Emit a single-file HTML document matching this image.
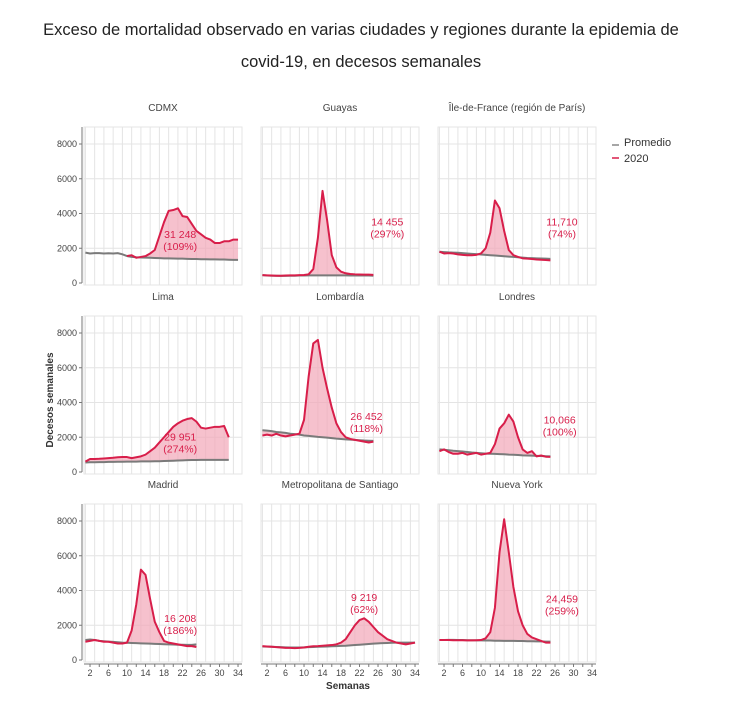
<!DOCTYPE html>
<html><head><meta charset="utf-8">
<style>
body{margin:0;background:#fff;width:744px;height:704px;overflow:hidden;font-family:"Liberation Sans",sans-serif}
#title{position:absolute;left:0;top:14px;width:722px;text-align:center;font-size:16.5px;line-height:32px;color:#222}
svg{position:absolute;left:0;top:0}
</style></head><body>
<div id="title">Exceso de mortalidad observado en varias ciudades y regiones durante la epidemia de<br>covid-19, en decesos semanales</div>
<svg id="chart" width="744" height="704"></svg>
<script>
const panelNames = ["CDMX","Guayas","Île-de-France (región de París)","Lima","Lombardía","Londres","Madrid","Metropolitana de Santiago","Nueva York"];
const avgStart = [1,1,1,1,1,1,1,1,1];
const avgValues = [
 [1750,1700,1720,1720,1700,1710,1700,1720,1650,1550,1500,1480,1470,1460,1450,1440,1430,1420,1420,1410,1400,1400,1390,1380,1380,1370,1370,1360,1360,1350,1350,1340,1330,1330],
 [450,430,420,420,410,410,420,420,430,430,440,440,440,440,440,440,440,440,440,430,430,430,430,430,420],
 [1800,1780,1760,1750,1740,1720,1700,1680,1660,1640,1620,1600,1580,1560,1540,1520,1500,1480,1460,1440,1430,1420,1410,1400,1390],
 [550,560,560,570,570,580,580,590,590,600,600,600,610,610,610,620,620,630,640,650,660,670,680,690,690,700,700,700,700,700,700,700],
 [2400,2380,2350,2300,2280,2250,2200,2180,2150,2100,2080,2050,2020,2000,1980,1950,1920,1900,1880,1860,1850,1830,1810,1800,1790],
 [1300,1280,1250,1220,1200,1180,1150,1120,1100,1080,1060,1050,1040,1030,1020,1000,990,980,960,950,940,930,920,910,900],
 [1150,1180,1150,1100,1080,1060,1040,1020,1000,990,980,970,960,950,940,930,920,910,900,890,880,880,870,870,900],
 [780,770,760,750,740,730,720,720,720,730,740,750,760,770,780,790,800,810,820,840,860,880,900,920,940,960,970,980,990,1000,1000,1000,1000,1000],
 [1150,1150,1160,1160,1150,1150,1140,1140,1130,1130,1120,1120,1110,1110,1100,1100,1100,1090,1090,1080,1080,1070,1070,1060,1060]
];
const yrStart = [10,1,1,1,1,1,1,1,1];
const yrValues = [
 [1550,1600,1450,1500,1550,1700,1900,2700,3500,4150,4200,4300,3850,3800,3400,3000,2800,2600,2500,2300,2300,2400,2400,2500,2500],
 [450,440,430,420,420,430,440,440,450,460,500,800,2600,5300,3600,1600,900,650,560,520,500,490,480,480,470],
 [1800,1700,1720,1700,1650,1620,1600,1600,1620,1700,2000,2900,4750,4300,3000,1900,1600,1500,1420,1400,1380,1350,1340,1320,1300],
 [600,750,750,760,780,800,820,850,860,860,800,850,900,1000,1200,1400,1700,2000,2300,2600,2800,2950,3050,3100,2900,2550,2500,2550,2600,2600,2650,2000],
 [2100,2150,2100,2200,2100,2050,2100,2150,2200,3000,5500,7400,7600,6000,4800,3700,2800,2300,2000,1900,1850,1800,1750,1700,1750],
 [1200,1300,1150,1050,1050,1100,1000,1050,1100,1000,1050,1100,1600,2500,2800,3300,2900,2000,1300,1100,1200,900,950,880,870],
 [1050,1100,1150,1100,1050,1050,1000,950,950,1000,1700,3200,5200,4900,3500,2200,1600,1100,1000,950,900,850,800,800,750],
 [800,780,760,740,720,700,700,680,700,720,760,790,800,820,840,860,900,1000,1200,1600,2000,2300,2400,2200,1900,1600,1400,1200,1100,1000,950,900,950,1000],
 [1150,1150,1150,1140,1140,1140,1130,1130,1140,1150,1250,1600,3000,6200,8100,6200,4200,2800,2000,1500,1300,1200,1100,1000,1000]
];
const annotLine1 = ["31 248","14 455","11,710","29 951","26 452","10,066","16 208","9 219","24,459"];
const annotLine2 = ["(109%)","(297%)","(74%)","(274%)","(118%)","(100%)","(186%)","(62%)","(259%)"];
const annotWeek = [21.5,28,27.5,21.5,23.5,27,21.5,23,27.5];
const annotVal = [2600,3300,3300,1800,3000,2800,2200,3400,3300];
const yTicks = [0,2000,4000,6000,8000];
const xTicks = [2,6,10,14,18,22,26,30,34];

const NS="http://www.w3.org/2000/svg";
const svg=document.getElementById('chart');
function mk(tag,attrs,parent){const e=document.createElementNS(NS,tag);for(const k in attrs)e.setAttribute(k,attrs[k]);(parent||svg).appendChild(e);return e;}
const colX=[84,261,438], rowTop=[127,316,504], rowZero=[283,472,660];
const W=158;
for(let p=0;p<9;p++){
  const c=p%3,r=Math.floor(p/3);
  const x0=colX[c], top=rowTop[r], zero=rowZero[r];
  const xS=w=>x0+1.4+(w-1)*4.625;
  const yS=v=>zero-v*(zero-top-17)/8000;
  const g=mk('g',{});
  
  
  mk('rect',{x:x0,y:top,width:W,height:zero-top+2,fill:'#fff',stroke:'#e6e6e6'},g);
  for(let w=1;w<=34;w+=2){mk('line',{x1:xS(w),x2:xS(w),y1:top,y2:zero+2,stroke:'#e4e4e4','stroke-width':1},g);}
  for(let v=2000;v<=8000;v+=2000){mk('line',{x1:x0,x2:x0+W,y1:yS(v),y2:yS(v),stroke:'#e4e4e4'},g);}
  const t=mk('text',{x:x0+W/2,y:top-16,'text-anchor':'middle','font-size':10,fill:'#444'},g);t.textContent=panelNames[p];
  
  
  if(c===0){
    mk('line',{x1:x0-2,x2:x0-2,y1:top,y2:zero,stroke:'#777'},g);
    yTicks.forEach(v=>{mk('line',{x1:x0-5,x2:x0-2,y1:yS(v),y2:yS(v),stroke:'#777'},g);
      const l=mk('text',{x:x0-7,y:yS(v)+3,'text-anchor':'end','font-size':9,fill:'#444'},g);l.textContent=v;
      
      });
  }
  if(r===2){
    mk('line',{x1:x0,x2:x0+W,y1:zero+4,y2:zero+4,stroke:'#777'},g);
    for(let w=2;w<=34;w+=2)mk('line',{x1:xS(w),x2:xS(w),y1:zero+4,y2:zero+7,stroke:'#777'},g);
    xTicks.forEach(w=>{const l=mk('text',{x:xS(w),y:zero+16,'text-anchor':'middle','font-size':9,fill:'#444'},g);l.textContent=w;
      
      });
  }
  const av=w=>{const i=w-avgStart[p];const a=avgValues[p];return a[Math.max(0,Math.min(a.length-1,i))];};
  const yr=yrValues[p];
  let up=[],dn=[];
  yr.forEach((v,i)=>{const w=yrStart[p]+i;up.push(xS(w)+','+yS(v));dn.unshift(xS(w)+','+yS(av(w)));});
  const area=mk('polygon',{points:up.concat(dn).join(' '),fill:'#f2a7b8','fill-opacity':0.7},g);
  
  
  const ap=avgValues[p].map((v,i)=>xS(avgStart[p]+i)+','+yS(v)).join(' ');
  const al=mk('polyline',{points:ap,fill:'none',stroke:'#7a7a7a','stroke-width':2},g);
  
  
  const yl=mk('polyline',{points:up.join(' '),fill:'none',stroke:'#d81e4a','stroke-width':2,'stroke-linejoin':'round'},g);
  
  
  const ax=xS(annotWeek[p]), ay=yS(annotVal[p]);
  const a1=mk('text',{x:ax,y:ay,'text-anchor':'middle','font-size':10.5,fill:'#d81e4a'},g);a1.textContent=annotLine1[p];
  
  
  const a2=mk('text',{x:ax,y:ay+12,'text-anchor':'middle','font-size':10.5,fill:'#d81e4a'},g);a2.textContent=annotLine2[p];
  
  
}
const lg=mk('g',{});


mk('line',{x1:612,x2:619,y1:145,y2:145,stroke:'#888','stroke-width':1.5},lg);
let lt=mk('text',{x:624,y:146,'font-size':11,fill:'#333'},lg);lt.textContent='Promedio';


mk('line',{x1:612,x2:619,y1:158,y2:158,stroke:'#d81e4a','stroke-width':1.5},lg);
lt=mk('text',{x:624,y:162,'font-size':11,fill:'#333'},lg);lt.textContent='2020';


const yt=mk('text',{x:0,y:0,'font-size':10,'font-weight':'bold',fill:'#333','text-anchor':'middle',transform:'translate(53,400) rotate(-90)'});yt.textContent='Decesos semanales';


const xt=mk('text',{x:348,y:689,'font-size':10,'font-weight':'bold',fill:'#333','text-anchor':'middle'});xt.textContent='Semanas';


</script>
</body></html>
